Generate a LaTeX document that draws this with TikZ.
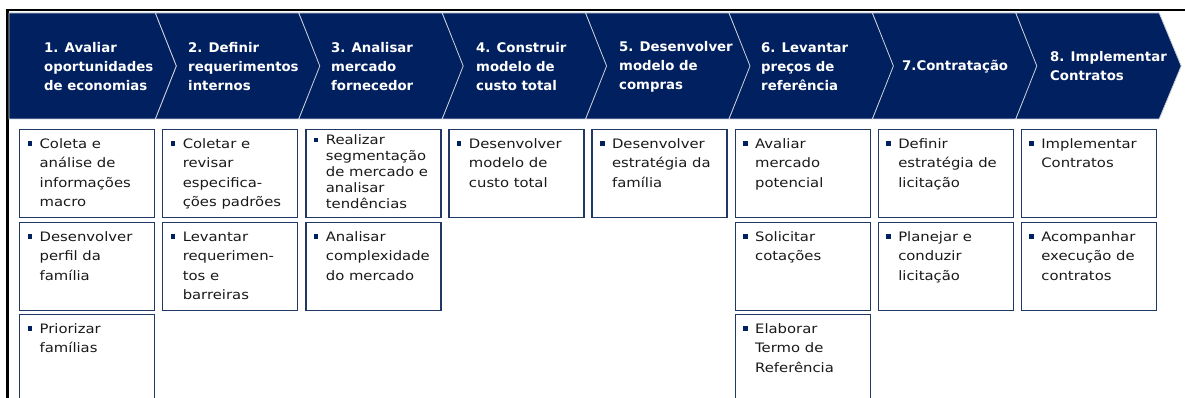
\documentclass[tikz,border=0pt]{standalone}
\usepackage{fontspec}
\setmainfont{DejaVu Sans}
\newfontfamily\corpo[FakeStretch=1.14]{DejaVu Sans}
\usetikzlibrary{positioning}
\definecolor{azulEscuro}{RGB}{0,32,96}
\definecolor{azulBorda}{RGB}{31,56,100}
\definecolor{cinzaLinha}{RGB}{205,208,215}

% texto com marcador dentro das caixas
\newcommand{\topico}[2][19.5pt]{\parbox[t][88pt][t]{135pt}{\corpo\fontsize{13pt}{#1}\selectfont
  \parindent=0pt\leftskip=8pt\rightskip=0pt plus 1fil\hangindent=12pt\hangafter=1
  \rule{0pt}{\dimexpr#1-1pt\relax}\makebox[12pt][l]{\textcolor{azulEscuro}{\rule[2.5pt]{4.5pt}{4.5pt}}}#2\par}}

\begin{document}
\begin{tikzpicture}[x=1pt,y=-1pt,
  chevron/.style={fill=azulEscuro,draw=cinzaLinha,line width=0.8pt},
  etapa/.style={anchor=west,align=left,text=white,inner sep=0pt,
                font=\bfseries\fontsize{13.3pt}{19pt}\selectfont},
  caixa/.style={draw=azulBorda,line width=1.3pt,inner sep=0pt,anchor=north west,
                text=black!90}]
  \useasboundingbox (0,0) rectangle (1185,398);
  \clip (0,0) rectangle (1185,398);

  % Moldura
  \draw[line width=2.6pt] (7.5,398) -- (7.5,10) -- (1185,10);

  % Faixa de etapas
  \draw[chevron] (9,13) -- (155.4,13) -- (176.4,66) -- (155.4,119) -- (9,119) -- cycle;
  \foreach \i in {1,...,7}{
    \pgfmathsetmacro{\xa}{12+143.4*\i}
    \pgfmathsetmacro{\xb}{12+143.4*(\i+1)}
    \draw[chevron] (\xa,13) -- (\xb,13) -- (\xb+22,66) -- (\xb,119) -- (\xa,119)
      -- (\xa+21,66) -- cycle;
  }

  \node[etapa] (e1) at (44,66.5)   {1. Avaliar\\oportunidades\\de economias};
  \node[etapa] (e2) at (188,66.5)  {2. Definir\\requerimentos\\internos};
  \node[etapa] (e3) at (331,66.5)  {3. Analisar\\mercado\\fornecedor};
  \node[etapa] (e4) at (476,66.5)  {4. Construir\\modelo de\\custo total};
  \node[etapa] (e5) at (619,66.5)  {5. Desenvolver\\modelo de\\compras};
  \node[etapa] (e6) at (761,66.5)  {6. Levantar\\preços de\\referência};
  \node[etapa] (e7) at (902,66.5)  {7.Contratação};
  \node[etapa] (e8) at (1050,66.5) {8. Implementar\\Contratos};

  % Atividades
  \node[caixa] (c11) at (19,129)  {\topico{Coleta e\\análise de\\informações\\macro}};
  \node[caixa] (c12) at (19,222)  {\topico{Desenvolver\\perfil da\\família}};
  \node[caixa] (c13) at (19,314)  {\topico{Priorizar\\famílias}};

  \node[caixa] (c21) at (162.1,129) {\topico{Coletar e\\revisar\\especifica-\\ções padrões}};
  \node[caixa] (c22) at (162.1,222) {\topico{Levantar\\requerimen-\\tos e\\barreiras}};

  \node[caixa] (c31) at (305.2,129) {\topico[16pt]{Realizar\\segmentação\\de mercado e\\analisar\\tendências}};
  \node[caixa] (c32) at (305.2,222) {\topico{Analisar\\complexidade\\do mercado}};

  \node[caixa] (c41) at (448.3,129) {\topico{Desenvolver\\modelo de\\custo total}};

  \node[caixa] (c51) at (591.4,129) {\topico{Desenvolver\\estratégia da\\família}};

  \node[caixa] (c61) at (734.5,129) {\topico{Avaliar\\mercado\\potencial}};
  \node[caixa] (c62) at (734.5,222) {\topico{Solicitar\\cotações}};
  \node[caixa] (c63) at (734.5,314) {\topico{Elaborar\\Termo de\\Referência}};

  \node[caixa] (c71) at (877.6,129) {\topico{Definir\\estratégia de\\licitação}};
  \node[caixa] (c72) at (877.6,222) {\topico{Planejar e\\conduzir\\licitação}};

  \node[caixa] (c81) at (1020.7,129) {\topico{Implementar\\Contratos}};
  \node[caixa] (c82) at (1020.7,222) {\topico{Acompanhar\\execução de\\contratos}};
\end{tikzpicture}
\end{document}
